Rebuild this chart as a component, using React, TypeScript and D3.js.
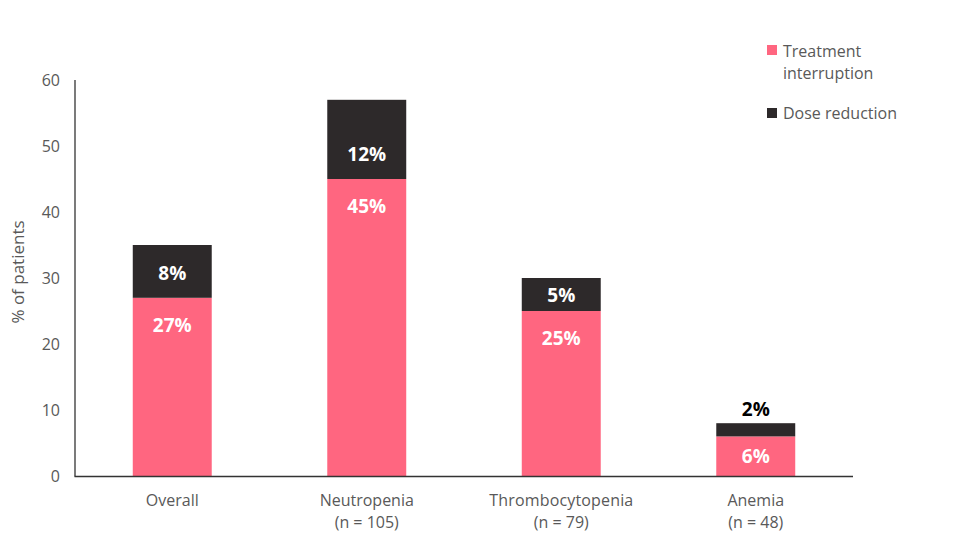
import React from "react";
import * as d3 from "d3";

const categories = ["Overall", "Neutropenia", "Thrombocytopenia", "Anemia"];
const categorySub = ["", "(n = 105)", "(n = 79)", "(n = 48)"];
const interruption = [27, 45, 25, 6];
const doseReduction = [8, 12, 5, 2];
const yTicks = [0, 10, 20, 30, 40, 50, 60];
const seriesNames = ["Treatment interruption", "Dose reduction"];

const W = 962;
const H = 549;
const PINK = "#FF6680";
const DARK = "#2D292A";
const GREY = "#595959";
const FONT = "'Open Sans', 'Noto Sans', sans-serif";

export default function App() {
  const x = d3.scaleBand<string>().domain(categories).range([75, 853]).paddingInner(0.594).paddingOuter(0.297);
  const y = d3.scaleLinear().domain([0, 60]).range([476, 80]);
  const bw = x.bandwidth();

  return (
    <svg width={W} height={H} style={{ position: "absolute", left: 0, top: 0, background: "#fff" }} fontFamily={FONT}>
      {categories.map((c, i) => {
        const x0 = x(c)!;
        const a = interruption[i];
        const b = doseReduction[i];
        const yA = y(a);
        const yB = y(a + b);
        const hA = y(0) - yA;
        const hB = yA - yB;
        const labelA = yA + Math.min(27, hA / 2);
        const bInside = hB > 25;
        const labelB = bInside ? yA - Math.min(25, hB / 2) : yB - 14;
        return (
          <g key={c}>
            <rect x={x0} y={yA} width={bw} height={hA} fill={PINK} />
            <rect x={x0} y={yB} width={bw} height={hB} fill={DARK} />
            <text x={x0 + bw / 2} y={labelA} textAnchor="middle" dominantBaseline="central" fill="#fff" fontWeight="bold" fontSize={19}>
              {a}%
            </text>
            <text x={x0 + bw / 2} y={labelB} textAnchor="middle" dominantBaseline="central" fill={bInside ? "#fff" : "#000"} fontWeight="bold" fontSize={19}>
              {b}%
            </text>
          </g>
        );
      })}
      <line x1={75} x2={75} y1={80} y2={476.5} stroke="#333" strokeWidth={1.3} />
      <line x1={74.5} x2={853} y1={476.5} y2={476.5} stroke="#333" strokeWidth={1.3} />
      {yTicks.map((t) => (
        <text key={t} x={60} y={y(t)} textAnchor="end" dominantBaseline="central" fill={GREY} fontSize={16}>
          {t}
        </text>
      ))}
      {categories.map((c, i) => (
        <g key={c}>
          <text x={x(c)! + bw / 2} y={500} textAnchor="middle" dominantBaseline="central" fill={GREY} fontSize={16} textLength={c.length > 12 ? 144 : undefined}>
            {c}
          </text>
          {categorySub[i] && (
            <text x={x(c)! + bw / 2} y={522} textAnchor="middle" dominantBaseline="central" fill={GREY} fontSize={16}>
              {categorySub[i]}
            </text>
          )}
        </g>
      ))}
      <text transform="translate(17,272) rotate(-90)" textAnchor="middle" dominantBaseline="central" fill={GREY} fontSize={17}>
        % of patients
      </text>
      <rect x={767} y={45} width={10} height={10} fill={PINK} />
      <text x={783} y={51} dominantBaseline="central" fill={GREY} fontSize={16}>Treatment</text>
      <text x={783} y={73} dominantBaseline="central" fill={GREY} fontSize={16}>interruption</text>
      <rect x={767} y={108} width={10} height={10} fill={DARK} />
      <text x={783} y={113} dominantBaseline="central" fill={GREY} fontSize={16}>{seriesNames[1]}</text>
    </svg>
  );
}
